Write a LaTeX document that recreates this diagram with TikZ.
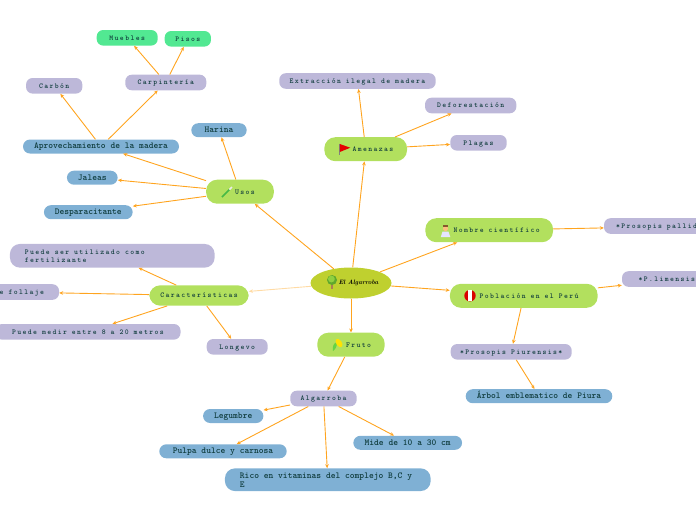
\documentclass[tikz,border=0pt]{standalone}
\usepackage{fontspec}
\usepackage{tikz}
\usetikzlibrary{arrows.meta,shapes.geometric}
\newfontfamily\plainmono{lmmonolt10-bold.otf}
\newfontfamily\widemono[LetterSpace=18.5]{lmmonolt10-bold.otf}
\definecolor{inkc}{HTML}{0E3B3B}
\definecolor{lavc}{HTML}{BDB8D9}
\definecolor{leafc}{HTML}{7FB0D4}
\definecolor{topicc}{HTML}{B2E05E}
\definecolor{mintc}{HTML}{52E892}
\definecolor{rootc}{HTML}{BFD02F}
\definecolor{linkc}{HTML}{FFA41F}
\definecolor{crownc}{HTML}{5FA82C}
\definecolor{crownl}{HTML}{8FD040}
\tikzset{
  >={Stealth[length=4pt,width=3.6pt]},
  box/.style={inner sep=0pt,text=inkc,text height=5.5pt,text depth=0.9pt},
  lav/.style={box,fill=lavc,rounded corners=6.5pt,minimum height=15.6pt,font=\widemono\fontsize{7.4}{8}\selectfont,execute at begin node={\spaceskip=4.97pt\relax}},
  mint/.style={lav,fill=mintc},
  topic/.style={lav,fill=topicc,rounded corners=11pt,minimum height=24pt},
  leaf/.style={box,fill=leafc,rounded corners=7pt,minimum height=14pt,font=\plainmono\fontsize{9.1}{9}\selectfont,execute at begin node={\spaceskip=4.8pt\relax}},
  lnk/.style={->,draw=linkc,line width=0.9pt},
}
\begin{document}
\begin{tikzpicture}[x=1pt,y=-1pt]
\useasboundingbox (0,0) rectangle (696,520);
\node[ellipse,fill=rootc,inner sep=0pt,minimum width=81pt,minimum height=31pt,font=\itshape\bfseries\fontsize{6.3}{8}\selectfont] (root) at (351,283){\hspace*{15pt}El Algarroba};
% left side
\node[topic,minimum width=67.7pt] (usos) at (240,191.7){\hspace*{10pt}Usos};
\node[topic,minimum width=99.4pt,minimum height=20.4pt] (carac) at (199,295.5){Características};
\node[leaf,minimum width=55.4pt] (harina) at (219,130.2){Harina};
\node[leaf,minimum width=156pt] (aprov) at (101,146.5){Aprovechamiento de la madera};
\node[leaf,minimum width=50.7pt] (jaleas) at (92.3,177.7){Jaleas};
\node[leaf,minimum width=88.7pt] (despar) at (88.3,212.2){Desparacitante};
\node[lav,minimum width=56.3pt] (carbon) at (54.2,85.8){Carbón};
\node[lav,minimum width=81pt] (carpin) at (165.8,82.5){Carpintería};
\node[mint,minimum width=61pt] (muebles) at (127.2,37.8){Muebles};
\node[mint,minimum width=46.3pt] (pisos) at (187.8,38.8){Pisos};
\node[lav,rounded corners=10pt,minimum height=23.7pt,inner xsep=15pt,text width=174.7pt,align=left,text height=,text depth=] (abono) at (112.3,255.8){Puede ser utilizado como\\fertilizante};
\node[lav,inner xsep=15pt,text width=69pt,align=right] (follaje) at (9.5,292){e follaje};
\node[lav,minimum width=185pt] (medir) at (88,331.8){Puede medir entre 8 a 20 metros};
\node[lav,minimum width=61pt] (longevo) at (237.2,346.8){Longevo};
% top
\node[topic,minimum width=82.7pt] (amenazas) at (365.7,149.2){\hspace*{14.6pt}Amenazas};
\node[lav,minimum width=156.4pt] (extrac) at (357.5,81){Extracción ilegal de madera};
\node[lav,minimum width=91.3pt] (defor) at (470.7,105.5){Deforestación};
\node[lav,minimum width=56.4pt] (plagas) at (478.5,142.8){Plagas};
% right side
\node[topic,minimum width=127.7pt] (nombre) at (489.2,230.2){\hspace*{15pt}Nombre científico};
\node[lav,inner xsep=12pt,text width=168pt,align=left] (pallida) at (700,226){*Prosopis pallid};
\node[topic,minimum width=147.7pt] (poblac) at (523.8,295.8){\hspace*{10.6pt}Población en el Perú};
\node[lav,inner xsep=16.7pt,text width=82.6pt,align=left] (limensis) at (680,279){*P.limensis};
\node[lav,minimum width=121pt] (piuren) at (511.2,351.8){*Prosopis Piurensis*};
\node[leaf,minimum width=146.6pt] (arbol) at (539,396.2){Árbol emblematico de Piura};
% bottom
\node[topic,minimum width=67.4pt] (fruto) at (351,344.7){\hspace*{15pt}Fruto};
\node[lav,minimum width=66.4pt] (algarr) at (323.5,398.5){Algarroba};
\node[leaf,minimum width=60.3pt] (legumbre) at (233.2,416){Legumbre};
\node[leaf,minimum width=127.4pt] (pulpa) at (223,451.3){Pulpa dulce y carnosa};
\node[leaf,minimum width=108.7pt] (mide) at (407.7,442.8){Mide de 10 a 30 cm};
\node[leaf,rounded corners=10pt,minimum height=22.7pt,inner xsep=15pt,text width=175.7pt,align=left,text height=,text depth=] (rico) at (327.8,479.7){Rico en vitaminas del complejo B,C y\\E};
% links
\draw[lnk] (root)--(usos); \draw[lnk] (root)--(amenazas); \draw[lnk] (root)--(nombre);
\draw[lnk] (root)--(poblac); \draw[lnk] (root)--(fruto); \draw[lnk,draw=linkc!40] (root)--(carac);
\draw[lnk] (usos)--(harina); \draw[lnk] (usos)--(aprov); \draw[lnk] (usos)--(jaleas); \draw[lnk] (usos)--(despar);
\draw[lnk] (aprov)--(carbon); \draw[lnk] (aprov)--(carpin); \draw[lnk] (carpin)--(muebles); \draw[lnk] (carpin)--(pisos);
\draw[lnk] (carac)--(abono); \draw[lnk] (carac)--(follaje); \draw[lnk] (carac)--(medir); \draw[lnk] (carac)--(longevo);
\draw[lnk] (amenazas)--(extrac); \draw[lnk] (amenazas)--(defor); \draw[lnk] (amenazas)--(plagas);
\draw[lnk] (nombre)--(pallida); \draw[lnk] (poblac)--(limensis); \draw[lnk] (poblac)--(piuren); \draw[lnk] (piuren)--(arbol);
\draw[lnk] (fruto)--(algarr); \draw[lnk] (algarr)--(legumbre); \draw[lnk] (algarr)--(pulpa); \draw[lnk] (algarr)--(rico); \draw[lnk] (algarr)--(mide);
% icons
\fill[brown!70!gray] (331,283) rectangle (333,289); \fill[crownc] (332,280) circle (5pt); \fill[crownl] (331.4,279) circle (3.4pt);
\draw[green!45!gray,line width=1.6pt] (222,197)--(229.5,189.5); \draw[white!85!gray,line width=1.6pt] (229.5,189.5)--(232,187);
\draw[gray,line width=0.6pt] (339.5,143.5)--(339.5,155); \fill[red!90!black] (339.8,144)--(350.3,147.7)--(339.8,152)--cycle;
\fill[white!90!blue] (440.8,237)--(442.5,231.5)--(448.5,231.5)--(450.3,237)--cycle; \fill[orange!50!white] (445.5,228.5) circle (2.6pt); \fill[brown!70!black] (442.9,227) rectangle (448.1,225.2);
\fill[red!85!black] (470,295.7) circle (5.7pt); \fill[white] (468,290.3) rectangle (472,301.1);
\fill[green!60!gray,opacity=.6] (333,351) .. controls (332,346) and (334,343) .. (337,342) .. controls (337,346) and (336,349) .. (333,351);
\fill[yellow!85!orange,rotate around={35:(339,343)}] (339,343) ellipse (2.8pt and 4.6pt);
\end{tikzpicture}
\end{document}
